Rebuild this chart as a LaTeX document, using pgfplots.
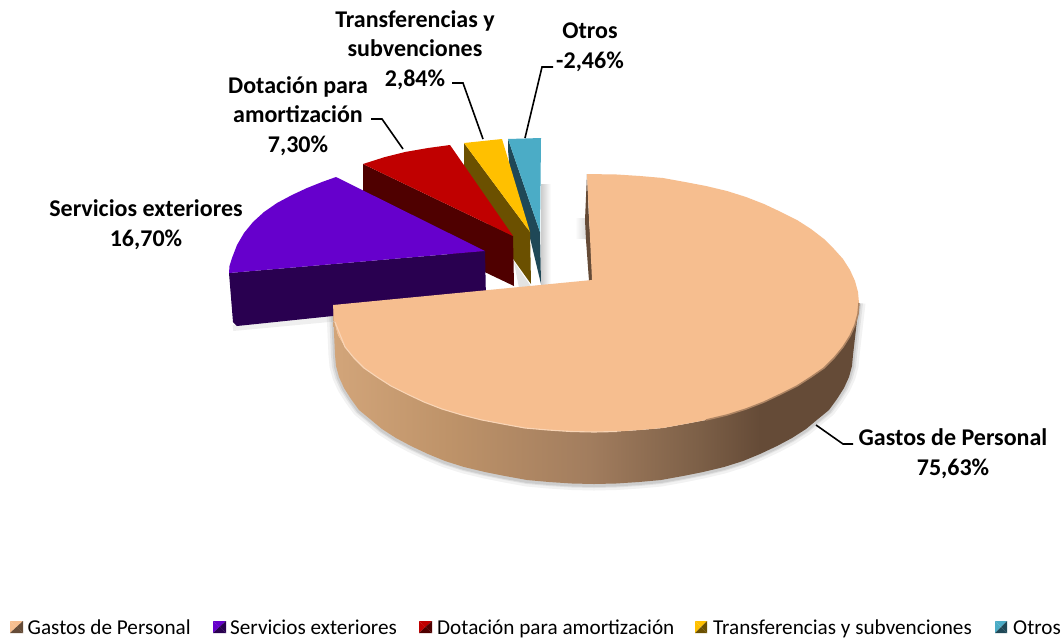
\documentclass[border=0pt]{standalone}
\usepackage{pgfplots}
\pgfplotsset{compat=1.18}
\usepackage{pgfplotstable}
\usepackage{fontspec}
\setmainfont{Carlito}
\definecolor{cpeach}{HTML}{F6BE8F}
\definecolor{cpurple}{HTML}{6600CC}
\definecolor{cpurpled}{HTML}{290050}
\definecolor{cred}{HTML}{C00000}
\definecolor{credd}{HTML}{4F0000}
\definecolor{cgold}{HTML}{FFC000}
\definecolor{cgoldd}{HTML}{6B5000}
\definecolor{cteal}{HTML}{4BACC6}
\definecolor{ctealad}{HTML}{1F4857}
\definecolor{cbrown}{HTML}{654B37}
\pgfdeclarehorizontalshading{pieside}{100bp}{rgb(0bp)=(0.824,0.647,0.478); rgb(25bp)=(0.824,0.647,0.478); rgb(36bp)=(0.745,0.576,0.412); rgb(49.4bp)=(0.635,0.490,0.369); rgb(59.9bp)=(0.486,0.373,0.278); rgb(65.6bp)=(0.396,0.294,0.216); rgb(100bp)=(0.396,0.294,0.216)}
\tikzset{
  lab/.style={align=center,font=\fontsize{24}{29.5}\selectfont\bfseries,inner sep=0pt,text=black},
  leg/.style={anchor=base west,font=\fontsize{21.2}{24}\selectfont,inner sep=0pt,text=black}}
\pgfplotstableread{
x y
859 303
853 355
852 366
849 377
844 388
837 399
829 410
818 419
806 429
792 438
777 446
760 454
743 461
724 467
703 472
683 476
661 480
639 482
616 483.5
594 484
572 483.5
549 482
527 480
505 476
485 472
464 467
445 461
428 454
411 446
396 438
382 429
370 419
359 410
351 399
344 388
339 377
336 366
335 355
333 310
}\bottomarc
\newcommand\swatch[6]{%
 \addplot[fill=#4,draw=none] coordinates {(#1,621)(#3,621)(#2,627)} --cycle;
 \addplot[fill=#4,draw=none] coordinates {(#1,621)(#1,633)(#2,627)} --cycle;
 \addplot[fill=#5,draw=none] coordinates {(#3,621)(#3,633)(#2,627)} --cycle;
 \addplot[fill=#6,draw=none] coordinates {(#1,633)(#3,633)(#2,627)} --cycle;
}
\begin{document}
\begin{tikzpicture}
\begin{axis}[hide axis,scale only axis,width=1064pt,height=638pt,xmin=0,xmax=1064,ymin=0,ymax=638,y dir=reverse,clip=false]
\fill[white] (axis cs:0,0) rectangle (axis cs:1064,638);
% soft shadows
\addplot[gray,opacity=.10,line width=13pt,line join=round] table {\bottomarc};
\addplot[gray,opacity=.14,line width=8pt,line join=round] table {\bottomarc};
\addplot[gray,opacity=.20,line width=4pt,line join=round] table[y expr=\thisrow{y}+1] {\bottomarc};
\addplot[gray,opacity=.12,line width=6pt] coordinates {(233,328)(340,318)};
\addplot[draw=none,left color=gray!40,right color=white] coordinates {(541,184)(551,184)(551,286)(541,286)} --cycle;
\addplot[draw=none,left color=white,right color=gray!32] coordinates {(575,218)(587,218)(587,238)(575,238)} --cycle;
\addplot[fill=gray!22,draw=none] coordinates {(514,262)(519,288)(532,288)} --cycle;
% teal
\addplot[fill=ctealad,draw=none] coordinates {(508,139)(540,232)(541,284)(530,238)(510,172)(508,150)} --cycle;
\addplot[fill=cteal,draw=none] coordinates {(508,139)(541,138)(540,232)} --cycle;
% gold
\addplot[fill=cgoldd,draw=none] coordinates {(464,143)(530,232)(531,284)(464,190)} --cycle;
\addplot[fill=cgold,draw=none] coordinates {(464,143)(502,139)(530,232)} --cycle;
% red
\addplot[fill=credd,draw=none] coordinates {(363,164)(513,236)(514,286)(363,214)} --cycle;
\addplot[fill=cred,draw=none] coordinates {(363,164)(385,157)(405,152)(428,148)(450,145)(513,236)} --cycle;
% purple
\addplot[fill=cpurpled,draw=none] coordinates {(229,273)(485,251)(486,300)(237,326)(233,322)} --cycle;
\addplot[fill=cpurple,draw=none] coordinates {(485,251)(336,177)(322,182)(307,188)(292,195)(277,203)(264,212)(253,222)(244,233)(237,245)(232,258)(229.5,266)(229,273)} --cycle;
% peach slice
\addplot[fill=cbrown,draw=none] coordinates {(587,174)(585,220)(586,240)(589,281)(594,281)(589,220)} --cycle;
\addplot[shade,shading=pieside,draw=none] coordinates {
(859,303)(858,314)(855,325)(850,336)(843,347)(834,358)(824,368)(811,377)(797,386)(781,394)(764,402)(746,409)(727,415)(706,420)(685,424)(663,428)(640,430)(617,431.5)(594,432)(571,431.5)(548,430)(525,428)(503,424)(482,420)(462,415)(442,409)(424,402)(407,394)(391,386)(377,377)(364,368)(354,358)(345,347)(338,335)(334,320)(333,305)
(333,310)(335,355)(336,366)(339,377)(344,388)(351,399)(359,410)(370,419)(382,429)(396,438)(411,446)(428,454)(445,461)(464,467)(485,472)(505,476)(527,480)(549,482)(572,483.5)(594,484)(616,483.5)(639,482)(661,480)(683,476)(703,472)(724,467)(743,461)(760,454)(777,446)(792,438)(806,429)(818,419)(829,410)(837,399)(844,388)(849,377)(852,366)(853,355)} --cycle;
\addplot[fill=cpeach,draw=none] coordinates {
(592,280)(587,174)(617,174.5)(640,176)(663,178)(685,182)(706,186)(727,191)(746,197)(764,204)(781,212)(797,220)(811,229)(824,239)(834,249)(843,259)(850,270)(855,281)(858,292)(859,303)
(858,314)(855,325)(850,336)(843,347)(834,358)(824,368)(811,377)(797,386)(781,394)(764,402)(746,409)(727,415)(706,420)(685,424)(663,428)(640,430)(617,431.5)(594,432)(571,431.5)(548,430)(525,428)(503,424)(482,420)(462,415)(442,409)(424,402)(407,394)(391,386)(377,377)(364,368)(354,358)(345,347)(338,335)(334,320)(333,305)} --cycle;
% rim
\addplot[color=white!35!cpeach,line width=1.1pt] coordinates {(335,322)(345,347)(354,358)(364,368)(377,377)(391,386)(407,394)(424,402)(442,409)(462,415)(482,420)(503,424)(525,428)(548,430)(571,431.5)(594,432)(617,431.5)};
\addplot[color=cbrown!50!cpeach,line width=1.5pt] coordinates {(706,420)(727,415)(746,409)(764,402)(781,394)(797,386)(811,377)(824,368)(834,358)(843,347)(850,336)(855,325)(858,314)(859,303)};
% leader lines
\addplot[black,line width=1.6pt] coordinates {(816,425)(843,444)(853,444)};
\addplot[black,line width=1.6pt] coordinates {(403,149)(382,119)(371,119)};
\addplot[black,line width=1.6pt] coordinates {(483,139)(463,83)(452,83)};
\addplot[black,line width=1.6pt] coordinates {(525,138)(542,67)(553,67)};
% labels
\node[lab] at (axis cs:953,453.5) {Gastos de Personal\\75,63\%};
\node[lab] at (axis cs:146,224.5) {Servicios exteriores\\16,70\%};
\node[lab] at (axis cs:298,116) {Dotación para\\amortización\\7,30\%};
\node[lab] at (axis cs:415,50) {Transferencias y\\subvenciones\\2,84\%};
\node[lab] at (axis cs:590,47) {Otros\\-2,46\%};
% legend
\swatch{10}{16.5}{23}{cpeach}{cbrown}{cbrown}
\swatch{213}{219.5}{226}{cpurple}{cpurpled}{cpurpled}
\swatch{419}{425.5}{432}{cred}{credd}{credd}
\swatch{695}{701}{707}{cgold}{cgoldd}{cgoldd}
\swatch{995}{1001}{1007}{cteal}{ctealad}{ctealad}
\node[leg] at (axis cs:27.5,634) {Gastos de Personal};
\node[leg] at (axis cs:230,634) {Servicios exteriores};
\node[leg] at (axis cs:437,634) {Dotación para amortización};
\node[leg] at (axis cs:713,634) {Transferencias y subvenciones};
\node[leg] at (axis cs:1013,634) {Otros};
\end{axis}
\end{tikzpicture}
\end{document}
